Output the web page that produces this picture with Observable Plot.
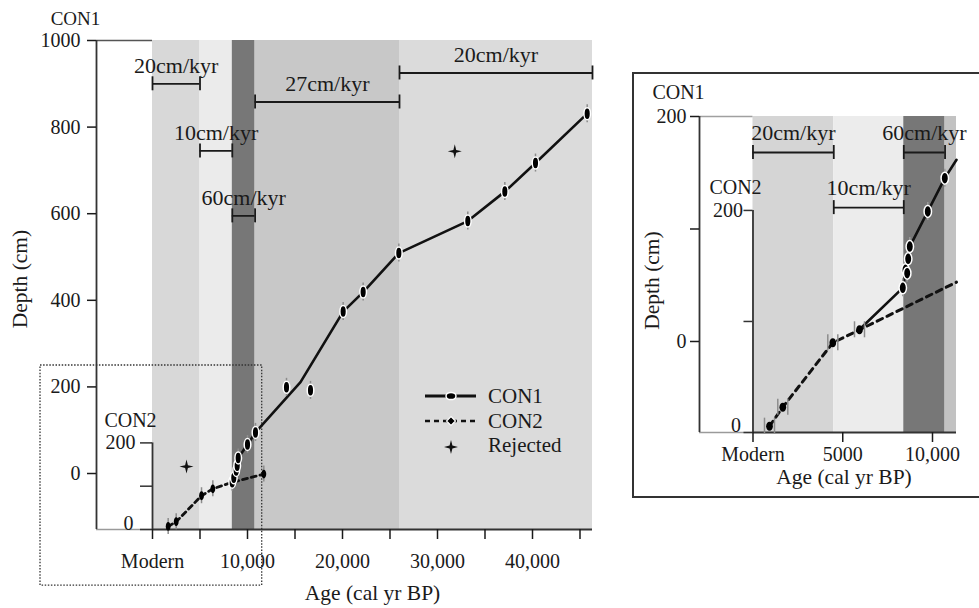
<!DOCTYPE html>
<html><head><meta charset="utf-8">
<script src="https://cdn.jsdelivr.net/npm/d3@7"></script>
<script src="https://cdn.jsdelivr.net/npm/@observablehq/plot@0.6"></script>
<style>
html,body{margin:0;padding:0;background:#fff;overflow:hidden;}
#wrap{position:relative;width:979px;height:608px;overflow:hidden;}
#main{position:absolute;left:0;top:0;}
#insetBox{position:absolute;left:632px;top:72px;width:420px;height:422px;border:2px solid #333;}
#inset{position:absolute;left:633px;top:73px;}
svg text{font-family:"Liberation Serif","DejaVu Serif",serif !important;}
</style></head><body>
<div id="wrap"><div id="main"></div><div id="insetBox"></div><div id="inset"></div></div>
<script>
// ================= DATA =================
// --- Main panel (CON1 axis, CON2 secondary axis) ---
const mainAgeMin = -5895, mainAgeMax = 46316;      // x domain (cal yr BP)
const mainDepthMin = -129.3, mainDepthMax = 1000;  // y domain (CON1 depth, cm)

const mainBandStart = [0, 5000, 8400, 10800, 26000];
const mainBandEnd   = [5000, 8400, 10800, 26000, 46316];

const con1Age   = [8390, 8558, 8810, 8916, 9021, 10000, 10842, 14105, 16632, 20070, 22175, 25930, 33190, 37087, 40316, 45758];
const con1Depth = [-20, -10, 7, 18, 36, 67, 95, 199, 192, 374, 419, 509, 583, 651, 717, 831];
const con1ModelAge   = [8390, 8810, 9021, 10000, 10842, 15580, 20070, 22175, 25930, 33190, 37087, 40316, 45758];
const con1ModelDepth = [-20, 7, 36, 67, 95, 211, 374, 419, 509, 583, 651, 717, 831];

const con2Age   = [1650, 2495, 5160, 6350, 11716];
const con2Depth = [7, 18, 78, 94, 128];            // CON2 depth (cm)
const con2ModelAge   = [1650, 2495, 5160, 6350, 8390, 11716];
const con2ModelDepth = [7, 18, 78, 94, 109, 128];

const rejectedAge   = [3580, 31820];
const rejectedDepth = [16, 744];                   // CON1 scale

const rateLabel = ["20cm/kyr", "10cm/kyr", "60cm/kyr", "27cm/kyr", "20cm/kyr"];
const rateFrom  = [0, 5000, 8400, 10800, 26000];
const rateTo    = [5000, 8400, 10800, 26000, 46316];
const rateDepth = [900, 745, 595, 858, 925];

const con1Ticks = [0, 200, 400, 600, 800, 1000];
const con2Ticks = [0, 100, 200];
const con2TickLabels = ["0", "", "200"];
const ageTicks = [0, 5000, 10000, 15000, 20000, 25000, 30000, 35000, 40000, 45000];
const ageTickLabels = ["Modern", "", "10,000", "", "20,000", "", "30,000", "", "40,000", ""];

// extent of the inset (dotted box) in main data units
const zoomAge   = [-11789, 11547];
const zoomDepth = [-258.7, 249.4];

// --- Inset panel ---
const inAgeMin = -2980, inAgeMax = 11337;
const inDepthMin = -80.9, inDepthMax = 200;
const inBandStart = [0, 4500, 8400, 10700];
const inBandEnd   = [4500, 8400, 10700, 11337];

const inCon1Age   = [8345, 8496, 8591, 8646, 8735, 9738, 10685];
const inCon1Depth = [47.7, 63.7, 60.7, 73.5, 84.4, 115.6, 145.2];
const inCon1ModelAge   = [5933, 8345, 8735, 9738, 10685, 11337];
const inCon1ModelDepth = [10.7, 47.7, 84.4, 115.6, 145.2, 161.5];

const inCon2Age   = [919, 1660, 4446, 5933];
const inCon2Depth = [5.7, 22.8, 80.8, 92.5];
const inCon2ModelAge   = [919, 1660, 4446, 5933, 11337];
const inCon2ModelDepth = [5.7, 22.8, 80.8, 92.5, 135.4];

const inRateLabel = ["20cm/kyr", "10cm/kyr", "60cm/kyr"];
const inRateFrom  = [0, 4500, 8400];
const inRateTo    = [4500, 8400, 10700];
const inRateDepth = [168, 119, 168];

const inCon1Ticks = [0, 100, 200];
const inCon1TickLabels = ["0", "", "200"];
const inAgeTicks = [0, 5000, 10000];
const inAgeTickLabels = ["Modern", "5000", "10,000"];

// ================= STYLE =================
const FONT = '"Liberation Serif", "DejaVu Serif", serif';
const INK = "#1a1a1a";
const mainBandColors = ["#d8d8d8", "#ebebeb", "#777777", "#c8c8c8", "#dbdbdb"];
const inBandColors = ["#d5d5d5", "#ececec", "#777777", "#c2c2c2"];
// secondary-axis mapping of CON2 depth into CON1 units
const mainCon2 = v => v - 129.3;
const inCon2 = v => v * 0.987 - 80.9;

// ================= HELPERS =================
const pts = (a, d) => a.map((x, i) => ({age: x, depth: d[i]}));
const bands = (s, e) => s.map((x, i) => ({start: x, end: e[i], i}));
const rates = (l, f, t, d) => l.map((x, i) => ({label: x, from: f[i], to: t[i], depth: d[i]}));
const labelMap = (t, l) => new Map(t.map((x, i) => [x, l[i]]));

const ellipse = (fx) => ({draw(ctx, size) {
  const r = Math.sqrt(size / Math.PI), rx = r * fx, ry = r, k = 0.5523;
  ctx.moveTo(0, -ry);
  ctx.bezierCurveTo(k * rx, -ry, rx, -k * ry, rx, 0);
  ctx.bezierCurveTo(rx, k * ry, k * rx, ry, 0, ry);
  ctx.bezierCurveTo(-k * rx, ry, -rx, k * ry, -rx, 0);
  ctx.bezierCurveTo(-rx, -k * ry, -k * rx, -ry, 0, -ry);
  ctx.closePath();
}});
const star = {draw(ctx, size) {
  const r = Math.sqrt(size / Math.PI), w = r * 0.2;
  ctx.moveTo(0, -r); ctx.lineTo(w, -w); ctx.lineTo(r, 0); ctx.lineTo(w, w);
  ctx.lineTo(0, r); ctx.lineTo(-w, w); ctx.lineTo(-r, 0); ctx.lineTo(-w, -w); ctx.closePath();
}};
const vEllipse = ellipse(0.55);

const plotStyle = {fontFamily: FONT, fontSize: "20px", color: INK, background: "none", overflow: "visible"};
const T = {textAnchor: "middle", lineAnchor: "middle", fill: INK};

// ================= MAIN PANEL =================
const mBands = bands(mainBandStart, mainBandEnd);
const mCon1 = pts(con1Age, con1Depth);
const mCon1Model = pts(con1ModelAge, con1ModelDepth);
const mCon2 = pts(con2Age, con2Depth);
const mCon2Model = pts(con2ModelAge, con2ModelDepth);
const mRej = pts(rejectedAge, rejectedDepth);
const mRates = rates(rateLabel, rateFrom, rateTo, rateDepth);
const ageLabel = labelMap(ageTicks, ageTickLabels);
const con2Label = labelMap(con2Ticks, con2TickLabels);

const main = Plot.plot({
  width: 630, height: 608,
  marginLeft: 96, marginRight: 38, marginTop: 40, marginBottom: 79,
  x: {type: "linear", domain: [mainAgeMin, mainAgeMax]},
  y: {type: "linear", domain: [mainDepthMin, mainDepthMax]},
  color: {type: "identity"},
  style: plotStyle,
  marks: [
    Plot.rect(mBands, {x1: "start", x2: "end", fill: d => mainBandColors[d.i]}),
    // frame lines
    Plot.ruleY([mainDepthMax], {x1: mainAgeMin, x2: 0, stroke: "#555", strokeWidth: 1.5}),
    Plot.ruleY([mainDepthMin], {x1: mainAgeMin, x2: 0, stroke: "#9a9a9a", strokeWidth: 1.5}),
    Plot.ruleY([mainDepthMin], {x1: 0, x2: mainAgeMax, stroke: "#333", strokeWidth: 1.8}),
    Plot.ruleX([mainAgeMin], {y1: mainDepthMin, y2: mainDepthMax, stroke: "#333", strokeWidth: 1.8}),
    // CON2 secondary axis
    Plot.ruleX([0], {y1: mainCon2(0), y2: mainCon2(200), stroke: "#333", strokeWidth: 1.8}),
    Plot.ruleY(con2Ticks, {y: d => mainCon2(d), x1: 0, x2: 0, insetLeft: -12, stroke: "#333", strokeWidth: 1.5}),
    Plot.text(con2Ticks.filter(d => d === 200), {...T, x: 0, y: d => mainCon2(d), text: d => con2Label.get(d), textAnchor: "end", dx: -17, fontSize: 20}),
    Plot.text(con2Ticks.filter(d => d === 0), {...T, x: 0, y: d => mainCon2(d), text: d => con2Label.get(d), textAnchor: "end", dx: -19, dy: -6, fontSize: 20}),
    // zoom box
    Plot.rect([0], {x1: zoomAge[0], x2: zoomAge[1], y1: zoomDepth[0], y2: zoomDepth[1], fill: "none", stroke: "#333", strokeWidth: 1.3, strokeDasharray: "1.5,1.6"}),
    // rate brackets
    Plot.ruleY(mRates, {y: "depth", x1: "from", x2: "to", stroke: INK, strokeWidth: 1.8}),
    Plot.ruleX(mRates, {x: "from", y1: "depth", y2: "depth", insetTop: -7, insetBottom: -7, stroke: INK, strokeWidth: 1.8}),
    Plot.ruleX(mRates, {x: "to", y1: "depth", y2: "depth", insetTop: -7, insetBottom: -7, stroke: INK, strokeWidth: 1.8}),
    Plot.text(mRates, {...T, x: d => (d.from + d.to) / 2, y: "depth", text: "label", dy: -18, fontSize: 22}),
    // age-depth models
    Plot.line(mCon2Model, {x: "age", y: d => mainCon2(d.depth), stroke: "#111", strokeWidth: 2.8, strokeDasharray: "5,4"}),
    Plot.line(mCon1Model, {x: "age", y: "depth", stroke: "#111", strokeWidth: 2.6}),
    // error bars
    Plot.ruleX(mCon2, {x: "age", y1: d => mainCon2(d.depth), y2: d => mainCon2(d.depth), insetTop: -8, insetBottom: -8, stroke: "#8c8c8c", strokeWidth: 1.5}),
    Plot.ruleX(mCon1, {x: "age", y1: "depth", y2: "depth", insetTop: -9, insetBottom: -9, stroke: "#8c8c8c", strokeWidth: 1.5}),
    // points
    Plot.dot(mCon2, {x: "age", y: d => mainCon2(d.depth), symbol: vEllipse, r: 4.4, fill: "#000", stroke: "none"}),
    Plot.dot(mCon1, {x: "age", y: "depth", symbol: vEllipse, r: 6, fill: "#000", stroke: "#fff", strokeWidth: 1.5}),
    Plot.dot(mRej, {x: "age", y: "depth", symbol: star, r: 7, fill: "#111", stroke: "none"}),
    // axes
    Plot.axisY({ticks: con1Ticks, anchor: "left", tickSize: 9, tickPadding: 7, label: null, strokeWidth: 1.5, fontSize: 20, tickFormat: d => String(d)}),
    Plot.axisX({ticks: ageTicks, anchor: "bottom", tickSize: 10, tickPadding: 14, label: null, strokeWidth: 1.5, fontSize: 20, tickFormat: d => ageLabel.get(d)}),
    // titles
    Plot.text(["CON1"], {...T, frameAnchor: "top-left", dx: -21, dy: -22, text: d => d, fontSize: 19}),
    Plot.text(["CON2"], {...T, frameAnchor: "bottom-left", dx: 34, dy: -109, text: d => d, fontSize: 20}),
    Plot.text(["Depth (cm)"], {...T, frameAnchor: "left", dx: -76, dy: -6, rotate: -90, text: d => d, fontSize: 21.5}),
    Plot.text(["Age (cal yr BP)"], {...T, frameAnchor: "bottom", dx: 28, dy: 64, text: d => d, fontSize: 21.5})
  ]
});
document.getElementById("main").appendChild(main);

// legend (pixel layout)
{
  const g = d3.select(main).append("g").attr("font-family", FONT).attr("font-size", 21)
    .attr("fill", INK).attr("text-anchor", "start");
  const rows = [
    {label: "CON1", y: 396, dash: null},
    {label: "CON2", y: 421, dash: "5,4"},
    {label: "Rejected", y: 445, dash: "none"}
  ];
  rows.forEach(r => {
    if (r.dash !== "none") {
      g.append("line").attr("x1", 425).attr("x2", 476).attr("y1", r.y).attr("y2", r.y)
        .attr("stroke", "#111").attr("stroke-width", r.dash ? 2.6 : 3)
        .attr("stroke-dasharray", r.dash || null);
    }
    g.append("text").attr("x", 488).attr("y", r.y).attr("dy", "0.32em").attr("text-anchor", "start").text(r.label);
  });
  g.append("ellipse").attr("cx", 451).attr("cy", 396).attr("rx", 5).attr("ry", 3.6)
    .attr("fill", "#000").attr("stroke", "#fff").attr("stroke-width", 1.5);
  g.append("path").attr("d", "M451,416.5L455.5,421L451,425.5L446.5,421Z")
    .attr("fill", "#000").attr("stroke", "#fff").attr("stroke-width", 1.2);
  g.append("path").attr("transform", "translate(451,447)")
    .attr("d", d3.symbol(star, Math.PI * 49)()).attr("fill", "#111");
}

// ================= INSET PANEL =================
const iBands = bands(inBandStart, inBandEnd);
const iCon1 = pts(inCon1Age, inCon1Depth);
const iCon1Model = pts(inCon1ModelAge, inCon1ModelDepth);
const iCon2 = pts(inCon2Age, inCon2Depth);
const iCon2Model = pts(inCon2ModelAge, inCon2ModelDepth);
const iRates = rates(inRateLabel, inRateFrom, inRateTo, inRateDepth);
const iAgeLabel = labelMap(inAgeTicks, inAgeTickLabels);
const iCon1Label = labelMap(inCon1Ticks, inCon1TickLabels);

const inset = Plot.plot({
  width: 346, height: 424,
  marginLeft: 66, marginRight: 23, marginTop: 43, marginBottom: 65,
  x: {type: "linear", domain: [inAgeMin, inAgeMax]},
  y: {type: "linear", domain: [inDepthMin, inDepthMax]},
  color: {type: "identity"},
  style: plotStyle,
  marks: [
    Plot.rect(iBands, {x1: "start", x2: "end", fill: d => inBandColors[d.i]}),
    Plot.ruleY([inDepthMax], {x1: inAgeMin, x2: 0, stroke: "#a0a0a0", strokeWidth: 1.3}),
    Plot.ruleY([inDepthMin], {x1: inAgeMin, x2: 0, stroke: "#9a9a9a", strokeWidth: 1.5}),
    Plot.ruleY([inDepthMin], {x1: 0, x2: inAgeMax, stroke: "#333", strokeWidth: 1.8}),
    Plot.ruleX([inAgeMin], {y1: inDepthMin, y2: inDepthMax, stroke: "#333", strokeWidth: 1.8}),
    // CON2 secondary axis
    Plot.ruleX([0], {y1: inCon2(0), y2: inCon2(200), stroke: "#333", strokeWidth: 1.8}),
    Plot.ruleY(con2Ticks, {y: d => inCon2(d), x1: 0, x2: 0, insetLeft: -9, stroke: "#333", strokeWidth: 1.5}),
    Plot.text(con2Ticks.filter(d => d === 200), {...T, x: 0, y: d => inCon2(d), text: d => con2Label.get(d), textAnchor: "end", dx: -10, fontSize: 20}),
    Plot.text(con2Ticks.filter(d => d === 0), {...T, x: 0, y: d => inCon2(d), text: d => con2Label.get(d), textAnchor: "end", dx: -12, dy: -7, fontSize: 20}),
    // rate brackets
    Plot.ruleY(iRates, {y: "depth", x1: "from", x2: "to", stroke: INK, strokeWidth: 1.8}),
    Plot.ruleX(iRates, {x: "from", y1: "depth", y2: "depth", insetTop: -7, insetBottom: -7, stroke: INK, strokeWidth: 1.8}),
    Plot.ruleX(iRates, {x: "to", y1: "depth", y2: "depth", insetTop: -7, insetBottom: -7, stroke: INK, strokeWidth: 1.8}),
    Plot.text(iRates, {...T, x: d => (d.from + d.to) / 2, y: "depth", text: "label", dy: -20, fontSize: 22}),
    // models
    Plot.line(iCon2Model, {x: "age", y: d => inCon2(d.depth), stroke: "#111", strokeWidth: 3, strokeDasharray: "6,5"}),
    Plot.line(iCon1Model, {x: "age", y: "depth", stroke: "#111", strokeWidth: 2.6}),
    // error bars (H shape)
    Plot.ruleX(iCon2, {x: "age", y1: d => inCon2(d.depth), y2: d => inCon2(d.depth), dx: -5, insetTop: -8, insetBottom: -8, stroke: "#8c8c8c", strokeWidth: 1.5}),
    Plot.ruleX(iCon2, {x: "age", y1: d => inCon2(d.depth), y2: d => inCon2(d.depth), dx: 5, insetTop: -8, insetBottom: -8, stroke: "#8c8c8c", strokeWidth: 1.5}),
    Plot.ruleX(iCon1, {x: "age", y1: "depth", y2: "depth", insetTop: -9, insetBottom: -9, stroke: "#9a9a9a", strokeWidth: 1.5}),
    // points
    Plot.dot(iCon2, {x: "age", y: d => inCon2(d.depth), symbol: ellipse(0.75), r: 4.5, fill: "#000", stroke: "none"}),
    Plot.dot(iCon1, {x: "age", y: "depth", symbol: ellipse(0.62), r: 6, fill: "#000", stroke: "#fff", strokeWidth: 1.5}),
    // axes
    Plot.axisY({ticks: inCon1Ticks, anchor: "left", tickSize: 9, tickPadding: 4, label: null, strokeWidth: 1.5, fontSize: 20, tickFormat: d => iCon1Label.get(d)}),
    Plot.axisX({ticks: inAgeTicks, anchor: "bottom", tickSize: 10, tickPadding: 4, label: null, strokeWidth: 1.5, fontSize: 20, tickFormat: d => iAgeLabel.get(d)}),
    // titles
    Plot.text(["CON1"], {...T, frameAnchor: "top-left", dx: -21, dy: -24, text: d => d, fontSize: 20}),
    Plot.text(["CON2"], {...T, frameAnchor: "top-left", dx: 36, dy: 71, text: d => d, fontSize: 20}),
    Plot.text(["Depth (cm)"], {...T, frameAnchor: "left", dx: -47, dy: 6, rotate: -90, text: d => d, fontSize: 21.5}),
    Plot.text(["Age (cal yr BP)"], {...T, frameAnchor: "bottom", dx: 16, dy: 45, text: d => d, fontSize: 21.5})
  ]
});
document.getElementById("inset").appendChild(inset);
</script>
</body></html>
